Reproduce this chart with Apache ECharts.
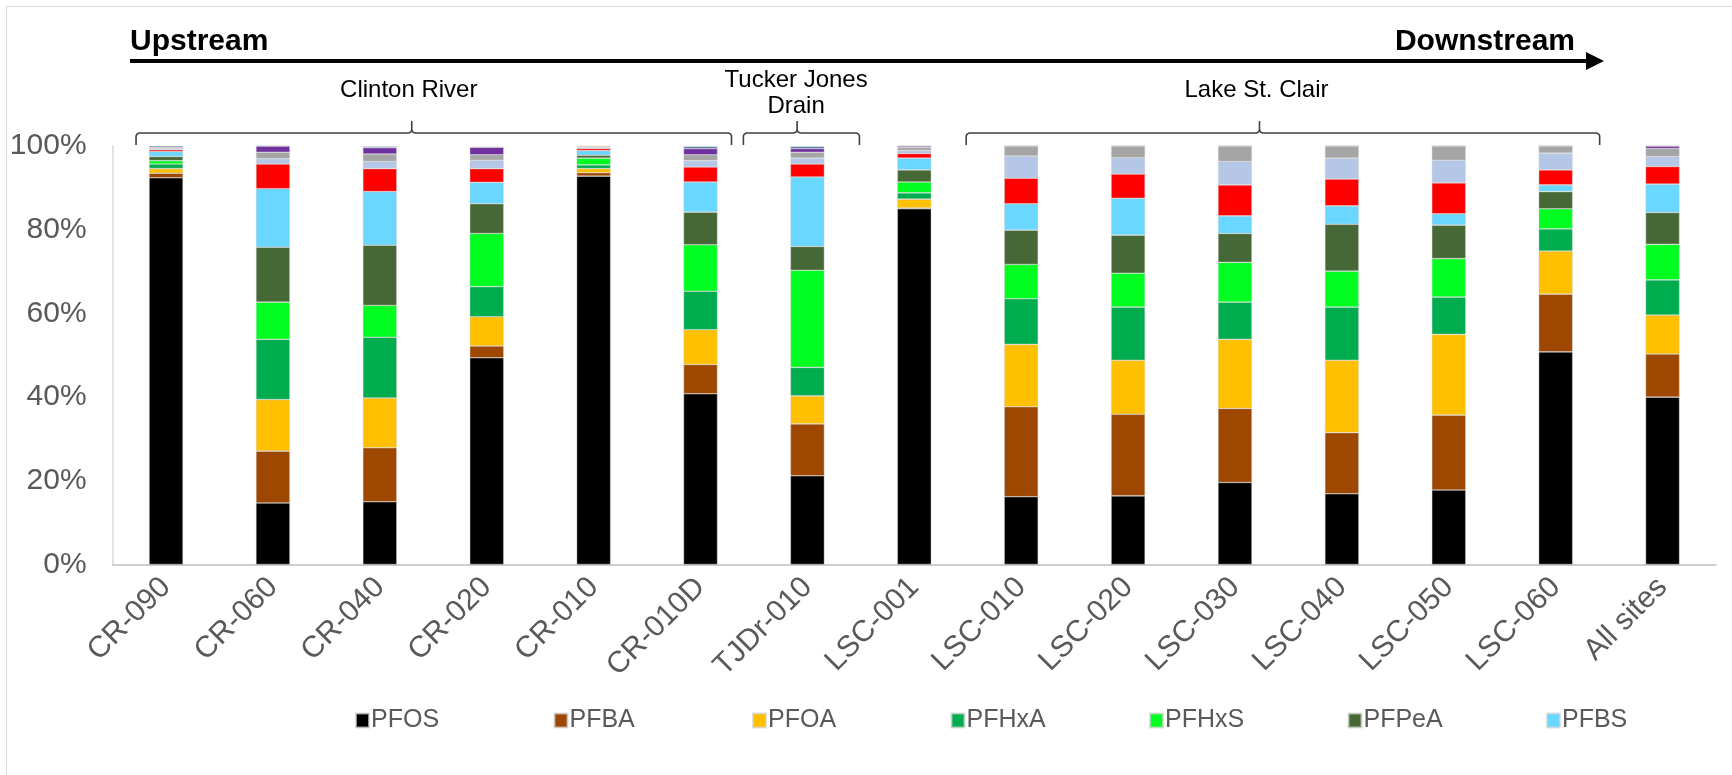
<!DOCTYPE html>
<html>
<head>
<meta charset="utf-8">
<script src="https://cdn.jsdelivr.net/npm/echarts@6/dist/echarts.min.js"></script>
<style>
html,body{margin:0;padding:0;background:#fff;}
#chart{width:1732px;height:775px;}
</style>
</head>
<body>
<div id="chart"></div>
<script>
// ---- Data (percent of total PFAS) ----
const categories = ['CR-090','CR-060','CR-040','CR-020','CR-010','CR-010D','TJDr-010','LSC-001','LSC-010','LSC-020','LSC-030','LSC-040','LSC-050','LSC-060','All sites'];
const PFOS  = [92.4,14.7,15.0,49.4,92.8,40.8,21.2,85.0,16.2,16.4,19.6,16.9,17.8,50.8,40.0];
const PFBA  = [1.1,12.4,12.9,2.8,0.8,7.0,12.4,0.2,21.5,19.5,17.7,14.6,17.9,13.8,10.3];
const PFOA  = [1.1,12.3,11.9,7.0,1.0,8.3,6.7,2.1,14.9,12.9,16.5,17.3,19.3,10.3,9.3];
const PFHxA = [1.1,14.4,14.5,7.2,0.9,9.2,6.8,1.5,10.9,12.7,8.9,12.7,8.9,5.3,8.4];
const PFHxS = [0.8,8.9,7.6,12.7,1.6,11.1,23.2,2.6,8.2,8.1,9.5,8.6,9.2,4.8,8.5];
const PFPeA = [1.0,13.1,14.4,7.1,0.7,7.8,5.7,2.9,8.2,9.1,6.9,11.2,8.0,4.1,7.6];
const PFBS  = [1.2,14.0,12.8,5.1,1.1,7.2,16.6,2.8,6.3,8.8,4.2,4.4,2.7,1.6,6.8];
const PFHpA = [0.4,5.9,5.5,3.3,0.5,3.6,3.1,1.1,6.1,5.8,7.4,6.4,7.4,3.6,4.2];
const PFNA  = [0.2,1.3,1.7,2.0,0.2,1.5,1.4,0.7,5.3,3.9,5.6,5.0,5.4,4.0,2.4];
const PFDA  = [0.2,1.5,1.8,1.3,0.2,1.4,1.4,0.7,2.4,2.8,3.7,2.9,3.4,1.7,1.9];
const PFHpS = [0.2,1.5,1.5,1.8,0.1,1.5,0.9,0.4,0,0,0,0,0,0,0.6];
const Other = [0.3,0,0.3,0,0.1,0.5,0.5,0,0,0,0,0,0,0,0];
const yTicks = [0,20,40,60,80,100];
const legendNames = ['PFOS','PFBA','PFOA','PFHxA','PFHxS','PFPeA','PFBS'];

const seriesDefs = [
  ['PFOS', PFOS, '#000000'],
  ['PFBA', PFBA, '#9E4700'],
  ['PFOA', PFOA, '#FFC000'],
  ['PFHxA', PFHxA, '#00AD4E'],
  ['PFHxS', PFHxS, '#00FF21'],
  ['PFPeA', PFPeA, '#466836'],
  ['PFBS', PFBS, '#69D7FF'],
  ['PFHpA', PFHpA, '#FF0000'],
  ['PFNA', PFNA, '#B4C7E7'],
  ['PFDA', PFDA, '#A5A5A5'],
  ['PFHpS', PFHpS, '#7030A0'],
  ['Other', Other, '#44709C']
];

const FONT = '"Liberation Sans",Arial,sans-serif';
const TXT = '#595959';

const chart = echarts.init(document.getElementById('chart'), null, {renderer:'canvas'});

const series = seriesDefs.map(([name, data, color]) => ({
  name, type:'bar', stack:'total', data, barWidth:34,
  itemStyle:{color, borderColor:'rgba(210,210,210,0.7)', borderWidth:0.6},
  emphasis:{disabled:true}
}));

const legends = legendNames.map((n, i) => ({
  data:[n], left:350 + i * 198.5, top:703, itemWidth:13, itemHeight:14, itemGap:0,
  icon:'rect', selectedMode:false,
  textStyle:{color:TXT, fontFamily:FONT, fontSize:25, padding:[0,0,0,-3]}
}));

chart.setOption({
  animation:false,
  backgroundColor:'#ffffff',
  grid:{left:112.6, right:16, top:146, bottom:210.5, containLabel:false},
  xAxis:{
    type:'category', data:categories,
    axisLine:{show:true, lineStyle:{color:'#BFBFBF', width:1.5}},
    axisTick:{show:false},
    axisLabel:{rotate:45, color:TXT, fontFamily:FONT, fontSize:30, margin:18, interval:0}
  },
  yAxis:{
    type:'value', min:0, max:100, interval:20,
    axisLine:{show:true, lineStyle:{color:'#D9D9D9', width:1.5}},
    axisTick:{show:false},
    splitLine:{show:false},
    axisLabel:{color:TXT, fontFamily:FONT, fontSize:30, margin:26,
      formatter:v => yTicks.includes(v) ? v + '%' : ''}
  },
  legend:legends,
  series
});

function drawAnnotations(){
  const cx = c => chart.convertToPixel({xAxisIndex:0}, c);
  const groups = [
    {label:['Clinton River'], from:'CR-090', to:'CR-010D', lOff:-30, rOff:31},
    {label:['Tucker Jones','Drain'], from:'TJDr-010', to:'TJDr-010', lOff:-64, rOff:52},
    {label:['Lake St. Clair'], from:'LSC-010', to:'LSC-060', lOff:-55, rOff:44}
  ];
  const gfx = [];
  const yLine = 133, yEnd = 145, yPeak = 121;
  const lineStyle = {stroke:'#404040', lineWidth:1.6, fill:null};
  groups.forEach(g => {
    const x1 = cx(g.from) + g.lOff, x2 = cx(g.to) + g.rOff;
    const xm = x1 + (x2 - x1) * 0.463;
    gfx.push({type:'polyline', silent:true, style:lineStyle, shape:{points:[
      [x1,yEnd],[x1,yLine+3],[x1+1,yLine+1],[x1+3,yLine],
      [xm-3,yLine],[xm-1,yLine-1],[xm,yLine-3],[xm,yPeak]]}});
    gfx.push({type:'polyline', silent:true, style:lineStyle, shape:{points:[
      [xm,yLine-3],[xm+1,yLine-1],[xm+3,yLine],
      [x2-3,yLine],[x2-1,yLine+1],[x2,yLine+3],[x2,yEnd]]}});
    const font = `24px ${FONT}`;
    const tx = xm - 3;
    if (g.label.length === 1) {
      gfx.push({type:'text', x:tx, y:90, style:{text:g.label[0], fill:'#000', font, textAlign:'center', textVerticalAlign:'middle'}});
    } else {
      gfx.push({type:'text', x:tx + 2, y:80, style:{text:g.label[0], fill:'#000', font, textAlign:'center', textVerticalAlign:'middle'}});
      gfx.push({type:'text', x:tx + 2, y:106, style:{text:g.label[1], fill:'#000', font, textAlign:'center', textVerticalAlign:'middle'}});
    }
  });
  // Upstream -> Downstream arrow
  gfx.push({type:'line', silent:true, shape:{x1:130, y1:61, x2:1590, y2:61}, style:{stroke:'#000', lineWidth:4}});
  gfx.push({type:'polygon', silent:true, shape:{points:[[1586,52],[1604,61],[1586,70]]}, style:{fill:'#000'}});
  gfx.push({type:'text', x:130, y:57, style:{text:'Upstream', fill:'#000', font:`bold 30px ${FONT}`, textAlign:'left', textVerticalAlign:'bottom'}});
  gfx.push({type:'text', x:1575, y:57, style:{text:'Downstream', fill:'#000', font:`bold 30px ${FONT}`, textAlign:'right', textVerticalAlign:'bottom'}});
  // chart frame (top/left edges)
  gfx.push({type:'line', silent:true, shape:{x1:6, y1:6.5, x2:1732, y2:6.5}, style:{stroke:'#D9D9D9', lineWidth:1}});
  gfx.push({type:'line', silent:true, shape:{x1:6.5, y1:6, x2:6.5, y2:775}, style:{stroke:'#D9D9D9', lineWidth:1}});
  chart.setOption({graphic:gfx});
}
drawAnnotations();
</script>
</body>
</html>
